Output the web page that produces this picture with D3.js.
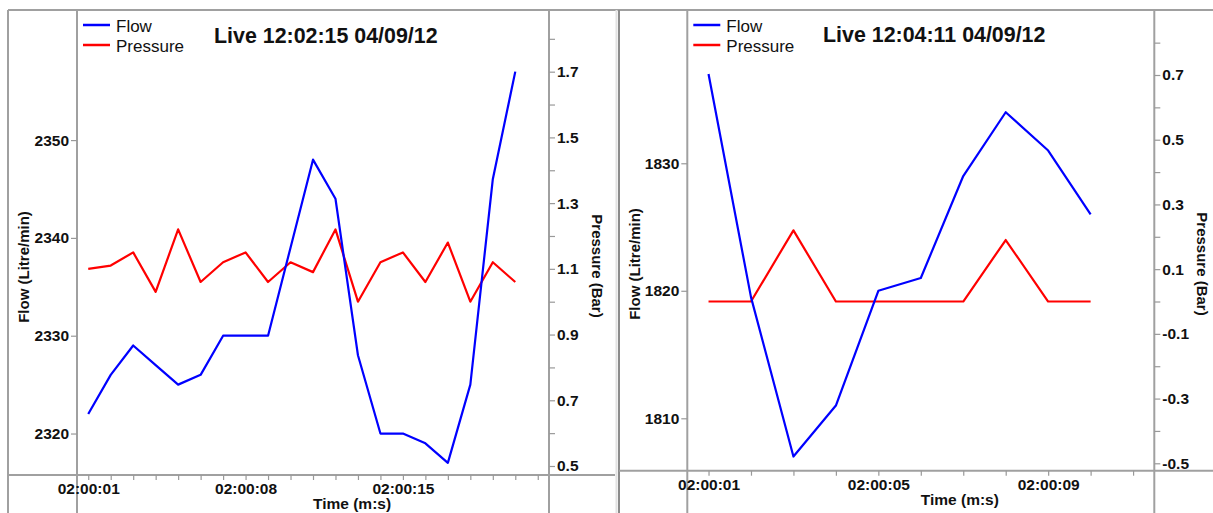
<!DOCTYPE html>
<html><head><meta charset="utf-8">
<script src="https://cdn.jsdelivr.net/npm/d3@7"></script>
<style>
body{margin:0;background:#fff}
svg{display:block}
text{font-family:"Liberation Sans",Arial,sans-serif;fill:#111}
</style>
</head><body>
<svg id="c" width="1213" height="513"></svg>
<script>
// ---------- data ----------
const seriesNames = ["Flow", "Pressure"];

const leftTitle = "Live 12:02:15 04/09/12";
const leftSeconds = [1,2,3,4,5,6,7,8,9,10,11,12,13,14,15,16,17,18,19,20];
const leftFlow = [2322,2326,2329,2327,2325,2326,2330,2330,2330,2339,2348,2344,2328,2320,2320,2319,2317,2325,2346,2357];
const leftPressure = [1.10,1.11,1.15,1.03,1.22,1.06,1.12,1.15,1.06,1.12,1.09,1.22,1.00,1.12,1.15,1.06,1.18,1.00,1.12,1.06];
const leftFlowTicks = [2320,2330,2340,2350];
const leftPressureTicks = [0.5,0.7,0.9,1.1,1.3,1.5,1.7];
const leftPressureMinor = [0.6,0.8,1.0,1.2,1.4,1.6,1.8];
const leftTimeLabels = [1,8,15];

const rightTitle = "Live 12:04:11 04/09/12";
const rightSeconds = [1,2,3,4,5,6,7,8,9,10];
const rightFlow = [1837,1819.5,1807,1811,1820,1821,1829,1834,1831,1826];
const rightPressure = [0,0,0.22,0,0,0,0,0.19,0,0];
const rightFlowTicks = [1810,1820,1830];
const rightPressureTicks = [-0.5,-0.3,-0.1,0.1,0.3,0.5,0.7];
const rightPressureMinor = [-0.4,-0.2,0,0.2,0.4,0.6,0.8];
const rightTimeLabels = [1,5,9];

const flowAxisTitle = "Flow (Litre/min)";
const pressureAxisTitle = "Pressure (Bar)";
const timeAxisTitle = "Time (m:s)";

// ---------- layout ----------
const svg = d3.select("#c");
const W = 1213, H = 513, TOP = 10;
const AX = "#a0a0a0";

const panels = [
  {title:leftTitle, t:leftSeconds, flow:leftFlow, pres:leftPressure,
   flowTicks:leftFlowTicks, presTicks:leftPressureTicks, presMinor:leftPressureMinor, tLabels:leftTimeLabels,
   tDomain:[0.5,21.5], fDomain:[2315.76,2363.3], pDomain:[0.4726,1.8877],
   frameL:8, frameR:615, x0:77, x1:549, yBot:475, titleX:214, titleY:42.5,
   flowTitleX:29, flowTitleY:267, presTitleX:592, presTitleY:266},
  {title:rightTitle, t:rightSeconds, flow:rightFlow, pres:rightPressure,
   flowTicks:rightFlowTicks, presTicks:rightPressureTicks, presMinor:rightPressureMinor, tLabels:rightTimeLabels,
   tDomain:[0.5,11.5], fDomain:[1805.89,1842.02], pDomain:[-0.5229,0.9009],
   frameL:619, frameR:1213, x0:687.3, x1:1154.3, yBot:470.7, titleX:823, titleY:42,
   flowTitleX:640, flowTitleY:264, presTitleX:1197, presTitleY:264}
];

// frames
svg.append("line").attr("x1",8).attr("x2",W).attr("y1",TOP).attr("y2",TOP).attr("stroke",AX).attr("stroke-width",2);
svg.append("line").attr("x1",8).attr("x2",8).attr("y1",TOP).attr("y2",H).attr("stroke",AX).attr("stroke-width",2);
svg.append("line").attr("x1",616.5).attr("x2",616.5).attr("y1",TOP).attr("y2",H).attr("stroke","#e2e2e2").attr("stroke-width",2);
svg.append("line").attr("x1",619).attr("x2",619).attr("y1",TOP).attr("y2",H).attr("stroke","#8c8c8c").attr("stroke-width",2);

const fmtP = v => d3.format(".1f")(v).replace("\u2212","-");
const pad2 = v => String(v).padStart(2,"0");

panels.forEach(p => {
  const g = svg.append("g");
  const x = d3.scaleLinear().domain(p.tDomain).range([p.x0, p.x1]);
  const yF = d3.scaleLinear().domain(p.fDomain).range([p.yBot, TOP]);
  const yP = d3.scaleLinear().domain(p.pDomain).range([p.yBot, TOP]);

  // axis lines
  g.append("line").attr("x1",p.frameL).attr("x2",p.frameR).attr("y1",p.yBot).attr("y2",p.yBot).attr("stroke",AX).attr("stroke-width",2);
  g.append("line").attr("x1",p.x0).attr("x2",p.x0).attr("y1",TOP).attr("y2",H).attr("stroke",AX).attr("stroke-width",2);
  g.append("line").attr("x1",p.x1).attr("x2",p.x1).attr("y1",TOP).attr("y2",H).attr("stroke",AX).attr("stroke-width",2);

  // left flow axis
  const aF = g.append("g").attr("transform",`translate(${p.x0},0)`)
    .call(d3.axisLeft(yF).tickValues(p.flowTicks).tickSize(6).tickPadding(2).tickFormat(d3.format("d")));
  // right pressure axis
  const allP = p.presTicks.concat(p.presMinor).sort((a,b)=>a-b);
  const aP = g.append("g").attr("transform",`translate(${p.x1},0)`)
    .call(d3.axisRight(yP).tickValues(allP).tickSize(6).tickPadding(2)
      .tickFormat(v => p.presTicks.some(m => Math.abs(m-v)<1e-9) ? fmtP(v) : ""));
  // time axis
  const tAll = d3.range(Math.ceil(p.tDomain[0]), Math.floor(p.tDomain[1])+1);
  const aT = g.append("g").attr("transform",`translate(0,${p.yBot})`)
    .call(d3.axisBottom(x).tickValues(tAll).tickSize(5).tickPadding(3)
      .tickFormat(v => p.tLabels.includes(v) ? "02:00:" + pad2(v) : ""));

  [aF,aP,aT].forEach(a => {
    a.select(".domain").remove();
    a.selectAll(".tick line").attr("stroke","#999").attr("stroke-width",1.2);
    a.selectAll(".tick text").attr("fill","#111").style("font-size","15.5px").style("font-weight","bold")
      .style("font-family",'"Liberation Sans",Arial,sans-serif');
  });

  // lines
  const flowLine = d3.line().x((d,i)=>x(p.t[i])).y(d=>yF(d));
  const presLine = d3.line().x((d,i)=>x(p.t[i])).y(d=>yP(d));
  g.append("path").datum(p.pres).attr("d",presLine).attr("fill","none").attr("stroke","#ff0000").attr("stroke-width",2.2).attr("stroke-linejoin","round");
  g.append("path").datum(p.flow).attr("d",flowLine).attr("fill","none").attr("stroke","#0000ff").attr("stroke-width",2.2).attr("stroke-linejoin","round");

  // legend
  const colors = ["#0000ff","#ff0000"];
  seriesNames.forEach((n,i) => {
    const yy = 25 + i*20;
    g.append("line").attr("x1",p.x0+6).attr("x2",p.x0+33).attr("y1",yy).attr("y2",yy).attr("stroke",colors[i]).attr("stroke-width",2.5);
    g.append("text").attr("x",p.x0+39).attr("y",yy+6.5).style("font-size","17px").text(n);
  });

  // title
  g.append("text").attr("x",p.titleX).attr("y",p.titleY).style("font-size","21.4px").style("font-weight","bold").text(p.title);

  // axis titles
  g.append("text").attr("transform",`translate(${p.flowTitleX},${p.flowTitleY}) rotate(-90)`)
    .attr("text-anchor","middle").style("font-size","15px").style("font-weight","bold").text(flowAxisTitle);
  g.append("text").attr("transform",`translate(${p.presTitleX},${p.presTitleY}) rotate(90)`)
    .attr("text-anchor","middle").style("font-size","15px").style("font-weight","bold").text(pressureAxisTitle);
  g.append("text").attr("x",(p.x0+p.x1)/2).attr("y",p.yBot+34)
    .style("font-size","15.5px").style("font-weight","bold").text(timeAxisTitle);
});
</script>
</body></html>
